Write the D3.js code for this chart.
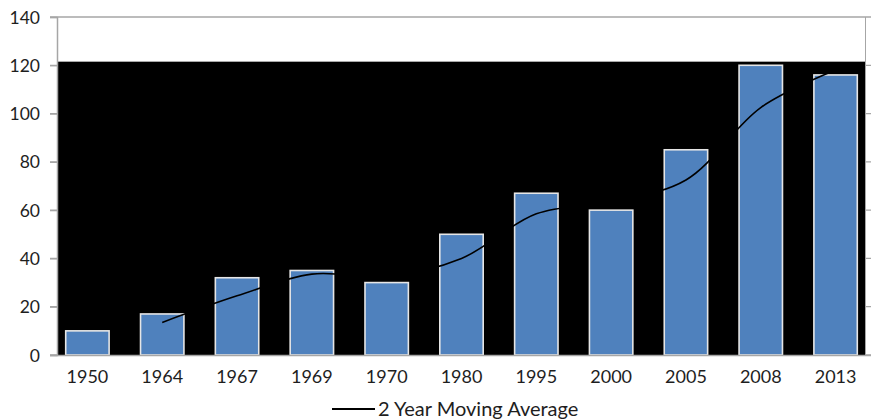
<!DOCTYPE html>
<html>
<head>
<meta charset="utf-8">
<script src="https://cdn.jsdelivr.net/npm/d3@7"></script>
<style>
  body{margin:0;background:#fff;}
  text{font-family:Lato,"Open Sans",sans-serif;fill:#1e1e1e;}
</style>
</head>
<body>
<div id="chart"></div>
<script>
const years=["1950","1964","1967","1969","1970","1980","1995","2000","2005","2008","2013"];
const counts=[10,17,32,35,30,50,67,60,85,120,116];
const movingAvg=[null,13.5,24.5,33.5,32.5,40,58.5,63.5,72.5,102.5,118];
const yTicks=[0,20,40,60,80,100,120,140];

const w=871;
const h=419;

const svg=d3.select("#chart")
  .append("svg")
  .attr("width",w)
  .attr("height",h);

const xScale=d3.scaleBand()
  .domain(years)
  .range([50,873])
  .paddingInner(0.42)
  .paddingOuter(0.21);
const yScale=d3.scaleLinear()
  .domain([0,140])
  .range([355,17]);

// gridlines (mostly hidden behind the black block)
svg.append("g")
  .selectAll("line")
  .data(yTicks)
  .enter()
  .append("line")
  .attr("x1",50)
  .attr("x2",871)
  .attr("y1",d=>yScale(d))
  .attr("y2",d=>yScale(d))
  .attr("stroke","#a6a6a6")
  .attr("stroke-width",1.3);

// black plot background
svg.append("rect")
  .attr("x",57)
  .attr("y",yScale(121.5))
  .attr("width",865-57)
  .attr("height",yScale(0)-yScale(121.5))
  .attr("fill","#000");

svg.append("line")
  .attr("x1",865.5).attr("x2",865.5)
  .attr("y1",yScale(140)).attr("y2",yScale(0))
  .attr("stroke","#a6a6a6").attr("stroke-width",1);

// y axis
const yAxis=d3.axisLeft(yScale).tickValues(yTicks).tickSize(7).tickPadding(10);
const gy=svg.append("g")
  .attr("transform","translate(57,0)")
  .call(yAxis);
gy.select(".domain").attr("stroke","#a6a6a6").attr("stroke-width",1.5);
gy.selectAll(".tick line").attr("stroke","#a6a6a6").attr("stroke-width",1.3);
gy.selectAll("text").style("font-size","17.5px").attr("fill","#1e1e1e").attr("dy","0.35em");

// bars
svg.selectAll("rect.bar")
  .data(counts)
  .enter()
  .append("rect")
  .attr("class","bar")
  .attr("x",(d,i)=>xScale(years[i]))
  .attr("y",d=>yScale(d))
  .attr("width",xScale.bandwidth())
  .attr("height",d=>yScale(0)-yScale(d))
  .attr("fill","#4f81bd")
  .attr("stroke","#e6e6e6")
  .attr("stroke-width",1.6);

// x axis
const xAxis=d3.axisBottom(xScale).tickSize(0).tickPadding(15);
const gx=svg.append("g")
  .attr("transform","translate(0,355)")
  .call(xAxis);
gx.select(".domain").remove();
gx.selectAll("text").style("font-size","18px").attr("fill","#1e1e1e");
svg.append("line")
  .attr("x1",50).attr("x2",871)
  .attr("y1",355.5).attr("y2",355.5)
  .attr("stroke","#a6a6a6").attr("stroke-width",1.5);

// moving average line
const line=d3.line()
  .defined(d=>d!==null)
  .x((d,i)=>xScale(years[i])+xScale.bandwidth()/2)
  .y(d=>yScale(d))
  .curve(d3.curveCatmullRom);
svg.append("path")
  .datum(movingAvg)
  .attr("d",line)
  .attr("fill","none")
  .attr("stroke","#000")
  .attr("stroke-width",1.6);

// legend
const legend=svg.append("g");
legend.append("line")
  .attr("x1",332).attr("x2",375)
  .attr("y1",409).attr("y2",409)
  .attr("stroke","#000")
  .attr("stroke-width",1.8);
legend.append("text")
  .text("2 Year Moving Average")
  .attr("x",378)
  .attr("y",415.5)
  .style("font-size","20px");
</script>
</body>
</html>
